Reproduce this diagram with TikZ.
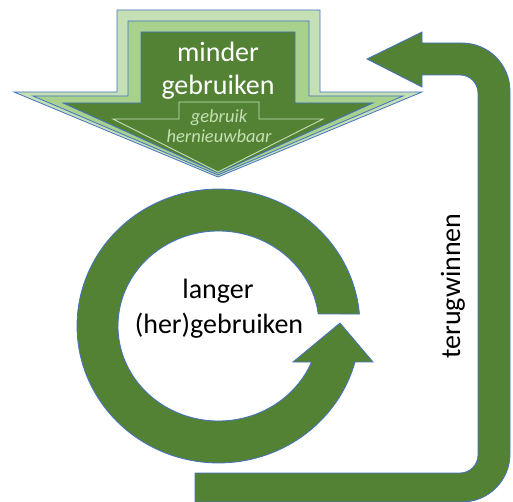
\documentclass[tikz,border=0pt]{standalone}
\usepackage{fontspec}
\setmainfont{Carlito}
\definecolor{dkgreen}{HTML}{548235}
\definecolor{ltgreen}{HTML}{C5E0B4}
\definecolor{mdgreen}{HTML}{A9D18E}
\definecolor{edgeblue}{HTML}{4472C4}
\tikzset{
  shapeedge/.style={draw=edgeblue, line width=0.8pt, line join=miter},
  bigtext/.style={font=\fontsize{28}{34}\selectfont, inner sep=0pt},
  smalltext/.style={font=\fontsize{18.5}{20}\selectfont\itshape, inner sep=0pt, text=ltgreen},
}
\begin{document}
\begin{tikzpicture}[x=1pt,y=-1pt]
\useasboundingbox (0,0) rectangle (513,502);
% layered down arrow
\draw[shapeedge, fill=ltgreen] (117,10) -- (320,10) -- (320,92) -- (422,92) -- (218,177) -- (14,92) -- (117,92) -- cycle;
\draw[shapeedge, fill=mdgreen] (128,21) -- (309,21) -- (309,96) -- (403,96) -- (218,175) -- (33,96) -- (128,96) -- cycle;
\draw[shapeedge, fill=dkgreen] (141,32) -- (295,32) -- (295,103) -- (373,103) -- (218,173) -- (63,103) -- (141,103) -- cycle;
\draw[draw=ltgreen, line width=0.9pt, fill=dkgreen] (179,102) -- (259,102) -- (259,119) -- (323,119) -- (218,172) -- (113,119) -- (179,119) -- cycle;
\node[bigtext, text=white, anchor=base] (minder) at (218,62) {minder};
\node[bigtext, text=white, anchor=base] (gebruiken) at (218,95) {gebruiken};
\node[smalltext, anchor=base] (gebruik) at (219,123) {gebruik};
\node[smalltext, anchor=base] (hernieuwbaar) at (219,143) {hernieuwbaar};
% circular arrow
\draw[shapeedge, fill=dkgreen]
  plot[domain=-5:-344.8, samples=150] ({218.5+141.5*cos(\x)},{326+137*sin(\x)})
  -- (373,362) -- (340,323) -- (293,362)
  -- plot[domain=-337.7:-7.3, samples=150] ({218.5+100.5*cos(\x)},{326+95*sin(\x)})
  -- cycle;
\node[bigtext, anchor=base] (langer) at (218,298) {langer};
\node[bigtext, anchor=base] (her) at (219,333) {(her)gebruiken};
% return arrow
\draw[shapeedge, fill=dkgreen]
  (367,59) -- (422,32) -- (422,43) -- (462,43)
  .. controls (488.5,43) and (510,64.5) .. (510,91)
  -- (510,454)
  .. controls (510,480.5) and (488.5,502) .. (462,502)
  -- (195,502) -- (195,473) -- (460,473)
  .. controls (469.9,473) and (478,464.9) .. (478,455)
  -- (478,93)
  .. controls (478,83.1) and (469.9,75) .. (460,75)
  -- (422,75) -- (422,87) -- cycle;
\node[bigtext, rotate=90] (terug) at (453,286) {terugwinnen};
\end{tikzpicture}
\end{document}
